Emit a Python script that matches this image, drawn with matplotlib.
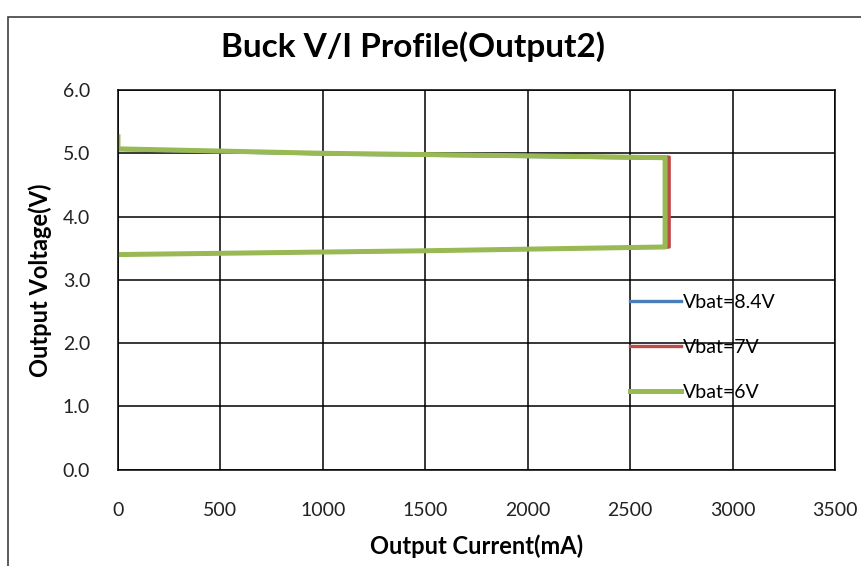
#!/usr/bin/env python3
'''
Buck V/I profile (Output2) - output voltage vs output current at three battery voltages.
'''
import matplotlib
matplotlib.use('Agg')
import matplotlib.pyplot as plt
from matplotlib.patches import Rectangle

plt.rcParams['font.family'] = ['Lato', 'DejaVu Sans']

# current (mA) / voltage (V) traces
i_84 = [0, 0, 1000, 2000, 2680, 2680, 1500, 0]
v_84 = [5.22, 5.06, 4.99, 4.95, 4.92, 3.52, 3.46, 3.40]

i_7 = [0, 0, 1000, 2000, 2690, 2690, 2690, 1500, 0]
v_7 = [5.24, 5.07, 5.00, 4.96, 4.94, 3.84, 3.52, 3.46, 3.40]

i_6 = [0, 0, 1000, 2000, 2670, 2670, 1500, 0]
v_6 = [5.26, 5.07, 5.00, 4.96, 4.93, 3.52, 3.46, 3.40]

labels = ['Vbat=8.4V', 'Vbat=7V', 'Vbat=6V']
colors = ['#4a7ebb', '#be4b48', '#98b954']

fig = plt.figure(figsize=(8.61, 5.66), dpi=100)
ax = fig.add_axes([0.137, 0.170, 0.833, 0.671])

# chart frame
fig.patches.append(Rectangle((0.009, -0.01), 1.0, 0.98, transform=fig.transFigure,
                             fill=False, edgecolor='#404040', linewidth=1.2))

for xs, ys, lab, c, lw in zip([i_84, i_7, i_6], [v_84, v_7, v_6], labels, colors,
                              [2.4, 2.4, 3.6]):
    ax.plot(xs, ys, color=c, linewidth=lw, label=lab, solid_joinstyle='round')

ax.set_xlim(0, 3500)
ax.set_ylim(0, 6)
ax.set_xticks(range(0, 3501, 500))
ax.set_yticks([0, 1, 2, 3, 4, 5, 6])
ax.set_yticklabels(['%.1f' % v for v in range(7)])
ax.grid(True, color='black', linewidth=1.1)
ax.set_axisbelow(True)
for s in ax.spines.values():
    s.set_color('black')
    s.set_linewidth(1.1)
ax.tick_params(length=0, labelsize=14, colors='#222222')
ax.tick_params(axis='x', pad=23)
ax.tick_params(axis='y', pad=20)

ax.set_xlabel('Output Current(mA)', fontsize=17, fontweight='bold', labelpad=11)
ax.set_ylabel('Output Voltage(V)', fontsize=17, fontweight='bold', labelpad=8)
fig.text(0.48, 0.917, 'Buck V/I Profile(Output2)', fontsize=24, fontweight='bold',
         ha='center', va='center')

ax.legend(loc='upper left', bbox_to_anchor=(0.69, 0.51), frameon=False,
          handlelength=2.6, handletextpad=0.1, labelspacing=1.45, fontsize=14)

plt.savefig('out.png', dpi=100)
